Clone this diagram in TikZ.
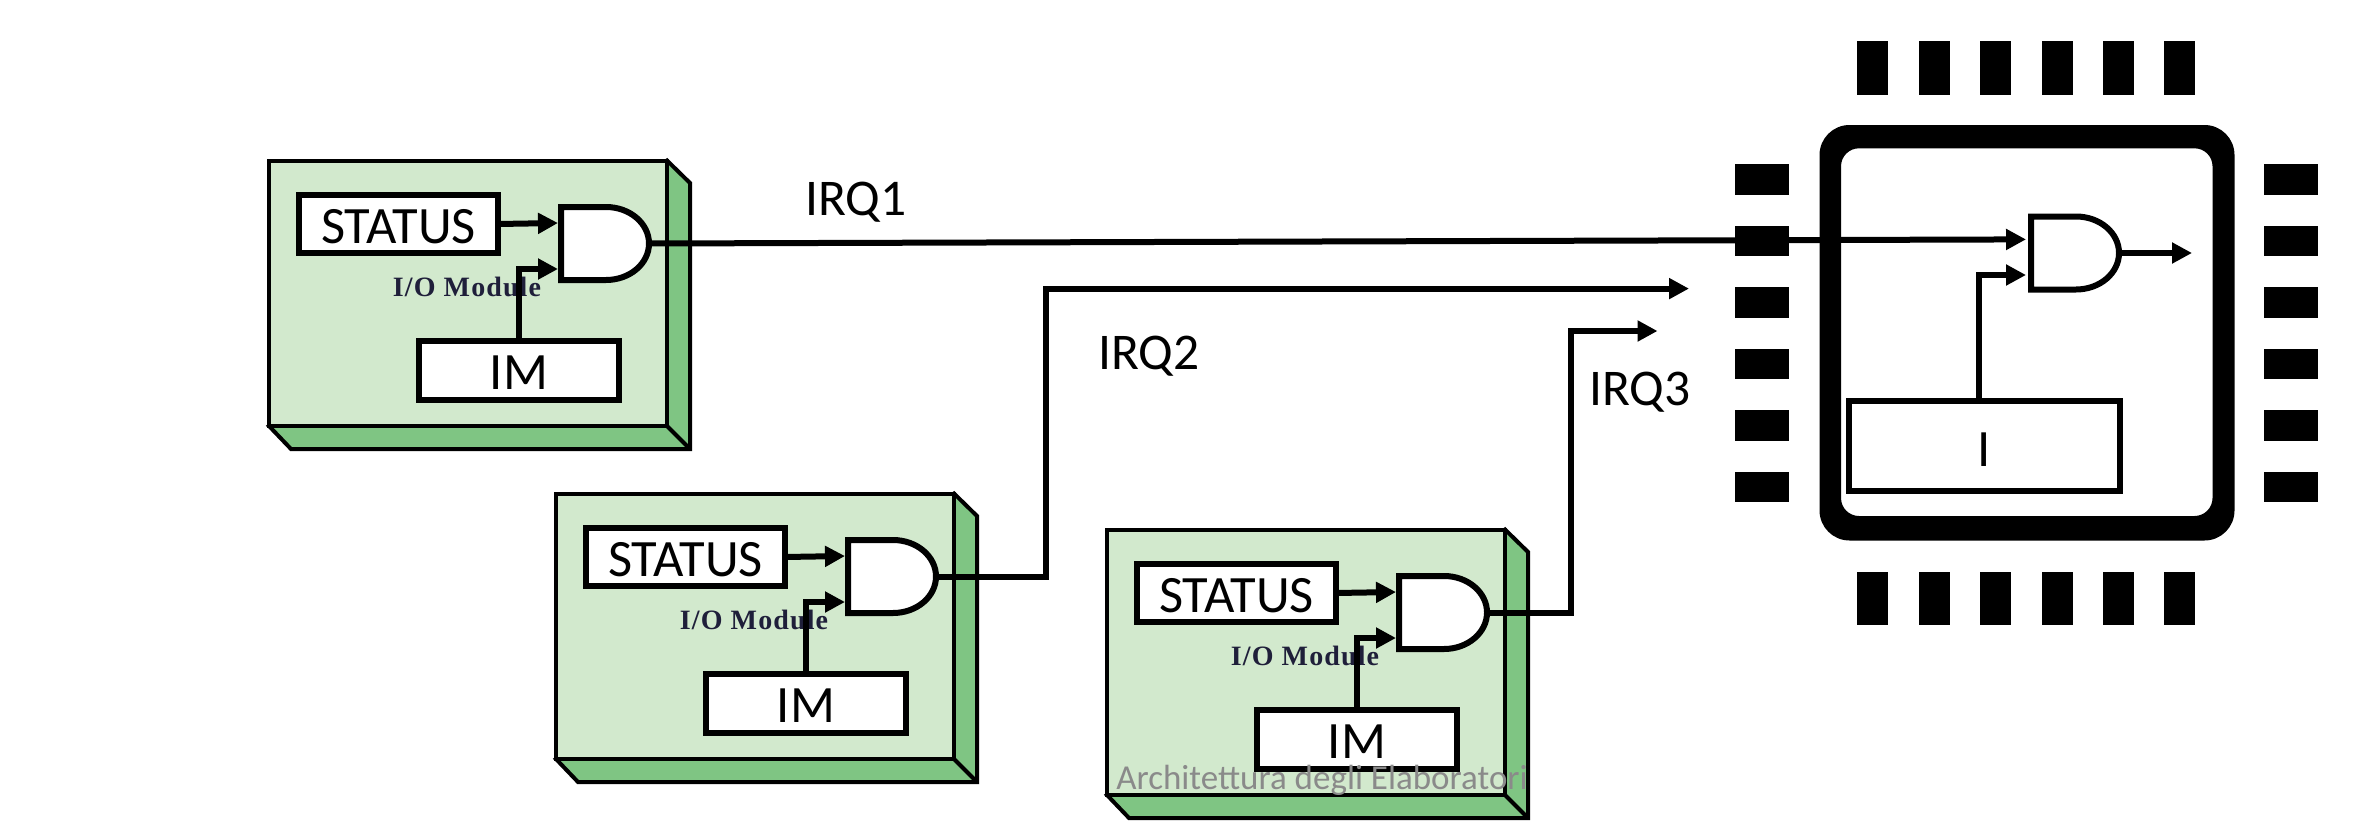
\documentclass[tikz,border=0pt]{standalone}
\usepackage{fontspec}
\setmainfont{Carlito}
\newfontfamily\modfont{Liberation Serif}[LetterSpace=4]
\usetikzlibrary{arrows.meta}
\definecolor{face}{HTML}{D2E9CD}
\definecolor{side}{HTML}{7FC583}
\definecolor{modtext}{HTML}{1F1F3A}
\definecolor{wmark}{HTML}{8A8A8A}
\tikzset{
  regbox/.style={draw=black,fill=white,line width=6pt,outer sep=0pt,inner sep=0pt,text height=38pt,text depth=0pt,font=\fontsize{52.5}{52.5}\selectfont},
  gateshape/.style={draw=black,fill=white,line width=6pt,line join=miter},
  wire/.style={draw=black,line width=6pt,line join=miter,-{Triangle[length=20pt,width=20pt]}},
  modface/.style={draw=black,fill=face,line width=4pt,line join=miter},
  modside/.style={draw=black,fill=side,line width=4pt,line join=miter},
  pin/.style={fill=black},
  irq/.style={font=\fontsize{51.5}{51.5}\selectfont,inner sep=0pt},
  modlabel/.style={font=\modfont\bfseries\fontsize{28}{30}\selectfont,text=modtext,inner sep=0pt}
}
\newcommand{\andgate}[4]{% name, left x, top y, (unused)
  \draw[gateshape] (#2,#3) -- ++(45,0) arc[start angle=90,end angle=-90,x radius=43pt,y radius=36.5pt] -- ++(-45,0) -- cycle;
  \coordinate (#1ina) at (#2-3,#3+16);
  \coordinate (#1inb) at (#2-3,#3+62);
  \coordinate (#1out) at (#2+88,#3+36.5);
}
\newcommand{\iomodule}[3]{%
  \begin{scope}[shift={(#2,#3)}]
    \draw[modside] (667,160.5) -- (690,183) -- (690,449) -- (291,449) -- (269,426) -- cycle;
    \draw[modside] (667,426) -- (690,449);
    \draw[modface] (269,160.5) rectangle (667,426);
    \node[modlabel] (#1label) at (467,287) {I/O Module};
    \node[regbox,minimum width=199pt,minimum height=58.7pt] (#1status) at (398.5,224) {STATUS};
    \node[regbox,minimum width=199.7pt,minimum height=58.7pt] (#1im) at (519,370.5) {IM};
    \andgate{#1g}{561}{207}{}
    \draw[wire] (#1status.east) -- (#1gina);
    \draw[wire] (#1im.north) |- (#1ginb);
  \end{scope}
}
\begin{document}
\begin{tikzpicture}[x=1pt,y=-1pt]
\useasboundingbox (0,0) rectangle (2376,838);
% chip
\foreach \x in {1857.4,1918.6,1979.8,2041.5,2102.8,2164.4}{
  \fill[pin] (\x,41) rectangle ++(31,53.5);
  \fill[pin] (\x,571.5) rectangle ++(31,53.5);
}
\foreach \y in {164,225.5,287,348.5,410,471.5}{
  \fill[pin] (1734.5,\y) rectangle ++(54,30.5);
  \fill[pin] (2264.4,\y) rectangle ++(54,30.5);
}
\fill[black,even odd rule]
  [rounded corners=30pt] (1819.5,125) rectangle (2234.5,540.5)
  [rounded corners=18pt] (1841,148.3) rectangle (2212.5,516);
\node[regbox,minimum width=270.6pt,minimum height=90.6pt,text height=41pt] (ireg) at (1984.3,446) {I};
\andgate{cg}{2031}{216.5}{}
\coordinate (cgina) at (2026,239.4);
\coordinate (cginb) at (2026,275);
% modules
\iomodule{ma}{0}{0}
\iomodule{mb}{287}{333}
\iomodule{mc}{838}{369}
% connectors
\coordinate (irqtwoend) at (1689,288.6);
\coordinate (irqthreeend) at (1657.5,331);
\coordinate (cpuout) at (2192,253);
\draw[wire] (magout) -- (cgina);
\draw[wire] (ireg.north -| 1978.6,0) |- (cginb);
\draw[wire] (cgout) -- (cpuout);
\draw[wire] (mbgout) -| (1046,288.6) -- (irqtwoend);
\draw[wire] (mcgout) -| (1571,331) -- (irqthreeend);
% labels
\node[irq] (irqone) at (856,202) {IRQ1};
\node[irq] (irqtwo) at (1149,356) {IRQ2};
\node[irq] (irqthree) at (1640,392) {IRQ3};
\node[font=\fontsize{35}{35}\selectfont,text=wmark,inner sep=0pt] (wm) at (1322,780) {Architettura degli Elaboratori};
\end{tikzpicture}
\end{document}
